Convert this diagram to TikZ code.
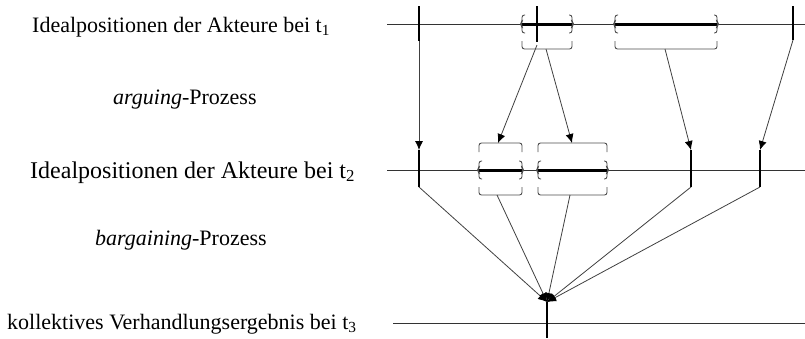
\documentclass[tikz,border=0pt]{standalone}
\usepackage{fontspec}
\setmainfont{Liberation Serif}
\usetikzlibrary{arrows.meta}
\newcommand\bracketmid[3]{%
 \draw[brk] ({#1+3},{#3-9}) -- (#1,{#3-9}) -- (#1,{#3-2}) -- ({#1-1.5},#3) -- (#1,{#3+2}) -- (#1,{#3+9}) -- ({#1+3},{#3+9});
 \draw[brk] ({#2-3},{#3-9}) -- (#2,{#3-9}) -- (#2,{#3-2}) -- ({#2+1.5},#3) -- (#2,{#3+2}) -- (#2,{#3+9}) -- ({#2-3},{#3+9});
 \draw[brk] (#1,{#3+17}) -- (#1,{#3+25}) -- (#2,{#3+25}) -- (#2,{#3+17});
}
\newcommand\brackettop[3]{\draw[brk] (#1,{#3-18}) -- (#1,{#3-27}) -- (#2,{#3-27}) -- (#2,{#3-18});}
\begin{document}
\begin{tikzpicture}[x=1pt,y=-1pt,
  axis/.style={line width=0.9pt, draw=black!80},
  tick/.style={line width=2pt, draw=black},
  seg/.style={line width=3pt, draw=black},
  conn/.style={line width=0.8pt, draw=black!75},
  arr/.style={conn, -{Latex[length=9pt,width=8pt,color=black]}},
  brk/.style={line width=0.9pt, draw=black!70, rounded corners=2.5pt},
  lbl/.style={anchor=base west, inner sep=0pt, font=\fontsize{22}{26}\selectfont},
]
\useasboundingbox (0,0) rectangle (805,338);
% labels
\node[lbl] (t1) at (32,32) {Idealpositionen der Akteure bei t\textsubscript{1}};
\node[lbl] (p1) at (113,104) {\textit{arguing}-Prozess};
\node[lbl, font=\fontsize{24}{28}\selectfont] (t2) at (30,178) {Idealpositionen der Akteure bei t\textsubscript{2}};
\node[lbl] (p2) at (95,245) {\textit{bargaining}-Prozess};
\node[lbl] (t3) at (7,329) {kollektives Verhandlungsergebnis bei t\textsubscript{3}};
% axes
\coordinate (L1w) at (387,24); \coordinate (L1e) at (805,24);
\coordinate (L2w) at (387,170); \coordinate (L2e) at (805,170);
\coordinate (L3w) at (393,323); \coordinate (L3e) at (805,323);
\draw[axis] (L1w) -- (L1e);
\draw[axis] (L2w) -- (L2e);
\draw[axis] (L3w) -- (L3e);
% row 1
\coordinate (A1) at (419,6);  \coordinate (A2) at (419,41);
\coordinate (B1) at (537,6);  \coordinate (B2) at (537,45);
\coordinate (D1) at (793,6);  \coordinate (D2) at (793,40);
\draw[tick] (A1) -- (A2);
\draw[tick] (B1) -- (537,42);
\draw[tick] (D1) -- (D2);
\coordinate (G1w) at (522,24); \coordinate (G1e) at (572,24);
\coordinate (G2w) at (615,24); \coordinate (G2e) at (717,24);
\draw[seg] (G1w) -- (G1e);
\draw[seg] (G2w) -- (G2e);
\bracketmid{522}{572}{24}
\bracketmid{615}{717}{24}
% row 2
\coordinate (G3w) at (479,170); \coordinate (G3e) at (522,170);
\coordinate (G4w) at (538,170); \coordinate (G4e) at (607,170);
\draw[seg] (G3w) -- (G3e);
\draw[seg] (G4w) -- (G4e);
\brackettop{479}{522}{170}
\bracketmid{479}{522}{170}
\brackettop{538}{607}{170}
\bracketmid{538}{607}{170}
\coordinate (E1) at (419,150); \coordinate (E2) at (419,187);
\coordinate (F1) at (691,150); \coordinate (F2) at (691,187);
\coordinate (H1) at (760,150); \coordinate (H2) at (760,187);
\draw[tick] (E1) -- (E2);
\draw[tick] (F1) -- (F2);
\draw[tick] (H1) -- (H2);
% arguing arrows
\coordinate (B3) at (546,49);
\coordinate (C2) at (665,49);
\coordinate (G3t) at (498,143);
\coordinate (G4t) at (572,143);
\draw[arr] (A2) -- (E1);
\draw[arr] (B2) -- (G3t);
\draw[arr] (B3) -- (G4t);
\draw[arr] (C2) -- (F1);
\draw[arr] (D2) -- (H1);
% bargaining arrows
\coordinate (R) at (547,302);
\coordinate (R2) at (547,338);
\coordinate (G3b) at (497,195);
\coordinate (G4b) at (570,195);
\draw[arr] (E2) -- (R);
\draw[arr] (G3b) -- (R);
\draw[arr] (G4b) -- (R);
\draw[arr] (F2) -- (R);
\draw[arr] (H2) -- (R);
\draw[tick] (R) -- (R2);
\end{tikzpicture}
\end{document}
